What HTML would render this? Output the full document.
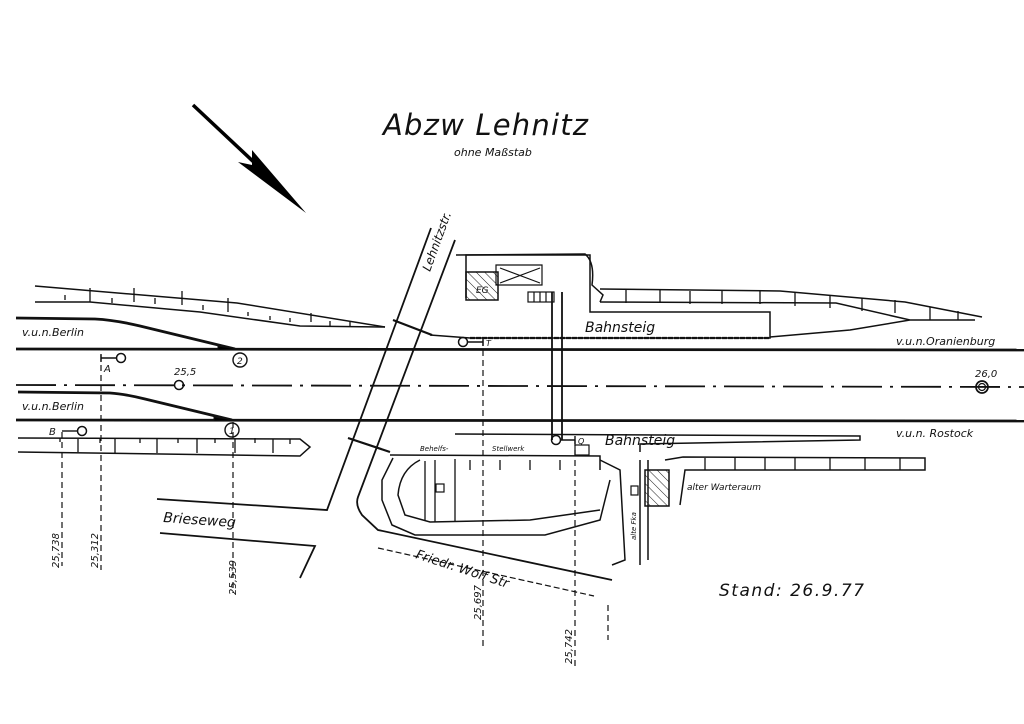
<!DOCTYPE html>
<html><head><meta charset="utf-8"><style>
html,body{margin:0;padding:0;background:#fff;}
svg{display:block;}
text{font-family:"DejaVu Sans","Liberation Sans",sans-serif;font-style:italic;fill:#111;}
</style></head><body>
<svg width="1024" height="724" viewBox="0 0 1024 724" xmlns="http://www.w3.org/2000/svg">
<rect width="1024" height="724" fill="#fff"/>
<defs>
<pattern id="h" width="6" height="6" patternUnits="userSpaceOnUse" patternTransform="rotate(-45)"><line x1="0" y1="0" x2="0" y2="6" stroke="#222" stroke-width="1"/></pattern>
</defs>
<text x="383" y="135" font-size="29" letter-spacing="1.2">Abzw  Lehnitz</text>
<text x="454" y="156" font-size="11">ohne Maßstab</text>
<line x1="193" y1="105" x2="258" y2="166" stroke="#000" stroke-width="3.5"/>
<polygon points="306,213 238,162 252,165 252,150" fill="#000"/>
<g stroke="#111" fill="none">
<line x1="16" y1="349" x2="1024" y2="350" stroke-width="2.8"/>
<line x1="16" y1="420" x2="1024" y2="421" stroke-width="2.8"/>
<line x1="16" y1="385" x2="1024" y2="387" stroke-width="1.8" stroke-dasharray="40,8,3,8"/>
<path d="M16,318 L95,319 Q115,320 140,326 L235,349" stroke-width="2.8"/>
<path d="M18,392 L110,393 Q125,394 145,399 L232,420" stroke-width="2.8"/>
<polygon points="218,346 238,349 218,350" fill="#000"/>
<polygon points="214,417 234,420 214,421" fill="#000"/>
<path d="M35,286 L237,303 L385,327" stroke-width="1.5"/>
<path d="M35,302 L90,302 L200,312 L300,326 L385,327" stroke-width="1.5"/>
<path d="M65,300v-5 M90,302v-14 M112,303v-5 M134,302v-14 M155,304v-6 M182,305v-14 M203,310v-5 M228,312v-14 M248,316v-4 M270,320v-4 M290,322v-4 M311,322v-9 M330,326v-5 M350,326v-4" stroke-width="1.3"/>
<path d="M18,438 L300,439 L310,447 L300,456 L18,452" stroke-width="1.5"/>
<path d="M60,438v4 M78,439v13 M100,438v5 M115,439v14 M140,438v5 M157,439v14 M178,438v5 M197,439v14 M215,438v5 M235,439v14 M255,438v5 M273,439v14 M290,439v5" stroke-width="1.3"/>
<path d="M431,228 L327,510 L157,499" stroke-width="1.8"/>
<path d="M455,240 L358,497 Q355,505 362,515 L378,530 L612,580" stroke-width="1.8"/>
<path d="M160,533 L315,546 L300,578" stroke-width="1.8"/>
<path d="M378,548 L594,596" stroke-width="1.2" stroke-dasharray="6,3"/>
<path d="M393,320 L432,335 M348,438 L390,452" stroke-width="2.2"/>
<path d="M430,335 L470,338 L770,338 L770,312 L700,312 L590,312 L590,255 L466,255 L466,298" stroke-width="1.5"/>
<path d="M470,338 L770,338" stroke-width="2.2" stroke-dasharray="5,1"/>
<path d="M466,272 L498,272 L498,300 L466,300 Z" fill="url(#h)" stroke-width="1.5"/>
<path d="M496,265 L542,265 L542,285 L496,285 Z M500,268 L540,283 M540,268 L500,283" stroke-width="1.2"/>
<path d="M456,255 L585,254 Q595,262 592,285 L603,295 L600,302" stroke-width="1.5"/>
<path d="M600,289 L780,291 L905,302 L982,317" stroke-width="1.5"/>
<path d="M600,302 L836,303 L910,320 L975,320 M770,337 L850,330 L910,320" stroke-width="1.5"/>
<path d="M626,290v13 M660,290v13 M690,291v13 M722,291v13 M760,291v13 M795,293v13 M830,295v13 M862,298v13 M895,300v13 M930,307v13 M958,311v9" stroke-width="1.3"/>
<rect x="528" y="292" width="26" height="10" stroke-width="1.2"/>
<path d="M534,292v10 M540,292v10 M546,292v10" stroke-width="1.2"/>
<path d="M552,292 L552,440 M562,292 L562,440" stroke-width="1.8"/>
<path d="M455,434 L860,436 L860,440 L640,444 L640,452" stroke-width="1.5"/>
<path d="M390,455 L600,456 L600,470" stroke-width="1.5"/>
<path d="M393,458 L382,480 L382,500 L392,525 L415,535 L545,535 L600,520 L610,480" stroke-width="1.5"/>
<path d="M420,460 Q400,470 398,495 L405,515 L430,522 L530,520 L600,510" stroke-width="1.5"/>
<path d="M425,461v60 M435,460v62 M455,459v62 M470,460v10 M500,460v10 M530,460v10 M560,460v10" stroke-width="1.3"/>
<rect x="436" y="484" width="8" height="8" stroke-width="1.2"/>
<path d="M600,460 L620,470 L625,560 L612,565" stroke-width="1.5"/>
<path d="M640,460 L640,565 M648,460 L648,560" stroke-width="1.5"/>
<rect x="645" y="470" width="24" height="36" fill="url(#h)" stroke-width="1.5"/>
<path d="M665,460 L683,457 L925,458 L925,470 L685,470 L680,505" stroke-width="1.5"/>
<path d="M705,458v12 M735,458v12 M765,458v12 M795,458v12 M830,458v12 M865,458v12 M900,458v12" stroke-width="1.3"/>
<rect x="575" y="445" width="14" height="10" stroke-width="1.2"/>
<rect x="631" y="486" width="7" height="9" stroke-width="1.2"/>
<path d="M62,432V566 M101,355V570 M233,422V593 M483,340V648 M575,440V668 M608,605V640" stroke-width="1.2" stroke-dasharray="6,4"/>
<circle cx="121" cy="358" r="4.5" stroke-width="1.5"/>
<path d="M101,358 H116 M101,354v8" stroke-width="1.4"/>
<circle cx="82" cy="431" r="4.5" stroke-width="1.5"/>
<path d="M62,431 H77" stroke-width="1.4"/>
<circle cx="179" cy="385" r="4.5" stroke-width="1.5"/>
<circle cx="463" cy="342" r="4.5" stroke-width="1.5"/>
<path d="M468,342 H483 M483,338v8" stroke-width="1.4"/>
<circle cx="556" cy="440" r="4.5" stroke-width="1.5"/>
<path d="M561,440 H575 M575,436v8" stroke-width="1.4"/>
<circle cx="240" cy="360" r="7" stroke-width="1.4"/>
<circle cx="232" cy="430" r="7" stroke-width="1.4"/>
<circle cx="982" cy="387" r="6" stroke-width="1.7"/>
<circle cx="982" cy="387" r="3.5" stroke-width="1.2"/>
</g>
<text x="22" y="336" font-size="11">v.u.n.Berlin</text>
<text x="22" y="410" font-size="11">v.u.n.Berlin</text>
<text x="896" y="345" font-size="11">v.u.n.Oranienburg</text>
<text x="896" y="437" font-size="11">v.u.n. Rostock</text>
<text x="585" y="332" font-size="14">Bahnsteig</text>
<text x="605" y="445" font-size="14">Bahnsteig</text>
<text x="237" y="364" font-size="9">2</text>
<text x="229" y="434" font-size="9">1</text>
<text x="104" y="372" font-size="10">A</text>
<text x="49" y="435" font-size="10">B</text>
<text x="174" y="375" font-size="10">25,5</text>
<text x="975" y="377" font-size="10">26,0</text>
<text x="486" y="346" font-size="8">T</text>
<text x="578" y="444" font-size="8">Q</text>
<text x="476" y="293" font-size="9">EG</text>
<text x="420" y="451" font-size="7">Behelfs-</text>
<text x="492" y="451" font-size="7">Stellwerk</text>
<text x="687" y="490" font-size="9">alter Warteraum</text>
<text x="163" y="522" font-size="14" transform="rotate(4 163 522)">Brieseweg</text>
<text x="415" y="558" font-size="13" transform="rotate(18 415 558)">Friedr. Wolf Str</text>
<text x="430" y="272" font-size="12" transform="rotate(-70 430 272)">Lehnitzstr.</text>
<text x="636" y="540" font-size="7" transform="rotate(-90 636 540)">alte Fka</text>
<text x="59" y="568" font-size="10" transform="rotate(-90 59 568)">25,738</text>
<text x="98" y="568" font-size="10" transform="rotate(-90 98 568)">25,312</text>
<text x="236" y="595" font-size="10" transform="rotate(-90 236 595)">25,539</text>
<text x="481" y="620" font-size="10" transform="rotate(-90 481 620)">25,697</text>
<text x="572" y="664" font-size="10" transform="rotate(-90 572 664)">25,742</text>
<text x="719" y="596" font-size="17" letter-spacing="1.5">Stand:  26.9.77</text>
</svg>
</body></html>
